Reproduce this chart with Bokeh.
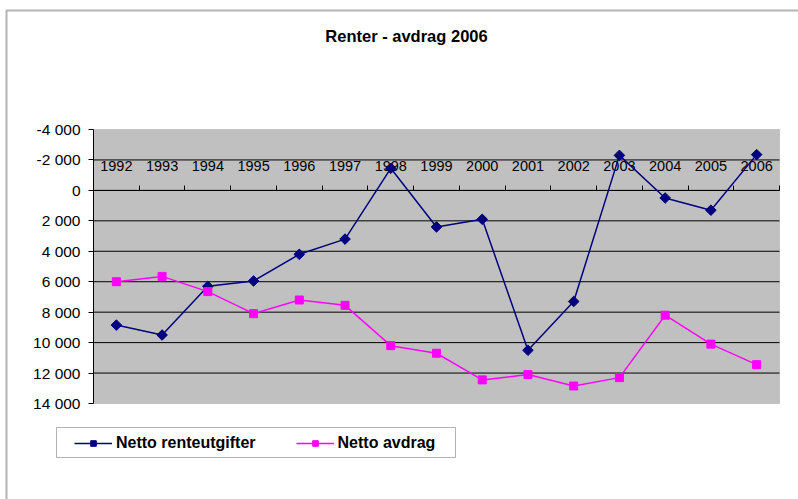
import math
from bokeh.plotting import figure
from bokeh.models import (Range1d, FixedTicker, LinearAxis, Legend, LegendItem, Label, BoxAnnotation)
from bokeh.embed import file_html
from bokeh.resources import INLINE

# ---- data ----
years = [1992, 1993, 1994, 1995, 1996, 1997, 1998, 1999, 2000, 2001, 2002, 2003, 2004, 2005, 2006]
netto_renteutgifter = [8850, 9500, 6300, 5950, 4200, 3200, -1450, 2400, 1900, 10500, 7300, -2300, 500, 1300, -2350]
netto_avdrag = [6000, 5650, 6650, 8100, 7200, 7550, 10200, 10700, 12450, 12100, 12850, 12300, 8200, 10100, 11450]
y_ticks = [-4000, -2000, 0, 2000, 4000, 6000, 8000, 10000, 12000, 14000]
title_text = "Renter - avdrag 2006"
series_names = ["Netto renteutgifter", "Netto avdrag"]

FONT = "Liberation Sans"

# ---- layout (pixels on the canvas) ----
W, H = 798, 499
PL, PR, PT, PB = 93, 779, 129, 403          # plot-area edges
x_lo, x_hi = years[0] - 0.5, years[-1] + 0.5
y_top, y_bot = y_ticks[0], y_ticks[-1]
xpp = (x_hi - x_lo) / (PR - PL)
ypp = (y_bot - y_top) / (PB - PT)
x0_canvas = x_lo - PL * xpp
y0_canvas = y_top - PT * ypp


def dx(px):
    return x0_canvas + px * xpp


def dy(py):
    return y0_canvas + py * ypp


p = figure(width=W, height=H, output_backend="svg", toolbar_location=None,
           x_range=Range1d(dx(0), dx(W)),
           y_range=Range1d(dy(H), dy(0)),
           x_axis_location=None, y_axis_location=None,
           min_border=0, min_border_left=0, min_border_right=0,
           min_border_top=0, min_border_bottom=0)
p.title.text = ""
p.title.visible = False
p.background_fill_color = "white"
p.border_fill_color = "white"
p.outline_line_color = None
p.xgrid.visible = False
p.ygrid.visible = False

# outer chart border (left and top edges visible)
chart_border = BoxAnnotation(left=dx(6), right=dx(W + 20), top=dy(10), bottom=dy(H + 20),
                             fill_alpha=0, line_color="black", line_width=2, level="image")
p.add_layout(chart_border)

# plot area
area = BoxAnnotation(left=x_lo, right=x_hi, top=y_top, bottom=y_bot,
                     fill_color="#c0c0c0", fill_alpha=1,
                     line_color="#808080", line_width=1, level="image")
p.add_layout(area)

# horizontal gridlines
gy = y_ticks[1:-1]
p.segment(x0=[x_lo] * len(gy), x1=[x_hi] * len(gy), y0=gy, y1=gy,
          line_color="black", line_width=1, level="underlay")

# y axis
yaxis = LinearAxis(ticker=FixedTicker(ticks=y_ticks, minor_ticks=[]),
                   fixed_location=x_lo, bounds=(y_bot, y_top))
yaxis.major_label_overrides = {v: f"{v:,}".replace(",", " ") for v in y_ticks}
yaxis.major_tick_out = 5
yaxis.major_tick_in = 0
yaxis.minor_tick_out = 0
yaxis.minor_tick_in = 0
yaxis.major_label_standoff = 8
yaxis.axis_line_color = "black"
yaxis.major_tick_line_color = "black"
yaxis.major_label_text_font = FONT
yaxis.major_label_text_font_size = "15.5px"
yaxis.major_label_text_color = "black"
p.add_layout(yaxis, "left")

# category axis crossing at 0, labels above
xaxis = LinearAxis(ticker=FixedTicker(ticks=years, minor_ticks=[y + 0.5 for y in years]),
                   fixed_location=0, bounds=(x_lo, x_hi))
xaxis.major_tick_out = 0
xaxis.major_tick_in = 0
xaxis.minor_tick_out = 5
xaxis.minor_tick_in = 0
xaxis.minor_tick_line_color = "black"
xaxis.axis_line_color = "black"
xaxis.major_label_standoff = 14
xaxis.major_label_text_font = FONT
xaxis.major_label_text_font_size = "14.5px"
xaxis.major_label_text_color = "black"
xaxis.level = "underlay"
p.add_layout(xaxis, "above")

# series
l1 = p.line(years, netto_renteutgifter, line_color="#000080", line_width=1.5)
s1 = p.scatter(years, netto_renteutgifter, marker="square", size=7.5, angle=math.pi / 4,
               fill_color="#000080", line_color="#000080")
l2 = p.line(years, netto_avdrag, line_color="#ff00ff", line_width=1.5)
s2 = p.scatter(years, netto_avdrag, marker="square", size=8,
               fill_color="#ff00ff", line_color="#ff00ff")

# legend frame
legend_box = BoxAnnotation(left=dx(56), right=dx(455), top=dy(427), bottom=dy(457),
                           fill_color="white", fill_alpha=1,
                           line_color="black", line_width=1, level="overlay")
p.add_layout(legend_box)

legend = Legend(items=[LegendItem(label=series_names[0], renderers=[l1, s1]),
                       LegendItem(label=series_names[1], renderers=[l2, s2])],
                orientation="horizontal", location=(74, H - 452),
                border_line_color=None, background_fill_alpha=0,
                label_text_font=FONT, label_text_font_size="16px",
                label_text_font_style="bold", label_text_color="black",
                glyph_width=38, glyph_height=14, label_height=14,
                label_standoff=4, spacing=40, padding=5, margin=0)
p.add_layout(legend, "center")

title = Label(x=406, y=H - 35, x_units="screen", y_units="screen", text=title_text,
              text_align="center", text_baseline="middle",
              text_font=FONT, text_font_size="16.5px", text_font_style="bold",
              text_color="black")
p.add_layout(title)

open("out.html", "w").write(file_html(p, INLINE))
